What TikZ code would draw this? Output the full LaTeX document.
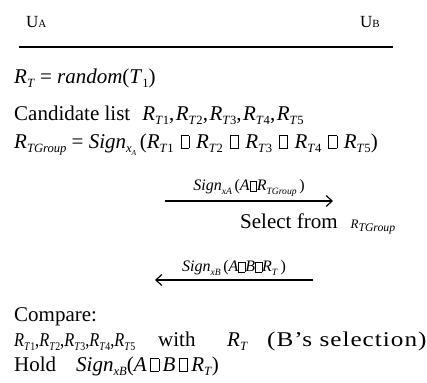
\documentclass[tikz,border=0pt]{standalone}
\usepackage{fontspec}
\usepackage{graphicx}
\setmainfont{Liberation Serif}
\newfontfamily\spc[LetterSpace=4]{Liberation Serif}
\usetikzlibrary{arrows.meta}
\newcommand\lo[1]{\raisebox{-0.22em}{\scalebox{0.6}{#1}}}
\newcommand\sqb{{\setlength\fboxsep{0pt}\setlength\fboxrule{0.45bp}\fbox{\rule{0pt}{0.58em}\hspace{0.38em}}}}
\newcommand\wsq{\hspace{1.5bp} \sqb{} \hspace{1.5bp}}
\newcommand\Rt[1]{\textit{R}\lo{\textit{T}#1}}
\newcommand\cm{,\hspace{1.5bp}}
\tikzset{
  txt/.style={anchor=base west, inner sep=0pt, font=\fontsize{21bp}{24bp}\selectfont},
  sml/.style={anchor=base west, inner sep=0pt, font=\fontsize{19.5bp}{20bp}\selectfont},
  hdr/.style={anchor=base west, inner sep=0pt, font=\fontsize{17bp}{18bp}\selectfont},
  lbl/.style={above=4bp, inner sep=0pt, font=\fontsize{16bp}{17bp}\selectfont},
  msg/.style={line width=1.2bp, -{Straight Barb[length=6bp,width=11bp,line width=1.2bp]}}
}
\begin{document}
\begin{tikzpicture}[x=1bp,y=-1bp]
\useasboundingbox (0,0) rectangle (427,383);
\node[hdr] (ua) at (26,27) {U{\fontsize{11bp}{11bp}\selectfont A}};
\node[hdr] (ub) at (360,27) {U{\fontsize{11bp}{11bp}\selectfont B}};
\coordinate (hl) at (19,47);
\coordinate (hr) at (393,47);
\draw[line width=2bp] (hl) -- (hr);
\node[txt] (l1) at (14,83) {\Rt{} = \textit{random}(\textit{T}\lo{1})};
\node[txt] (l2) at (14,120) {Candidate list\hspace{12bp}\Rt1\cm\Rt2\cm\Rt3\cm\Rt4\cm\Rt5};
\node[txt] (l3) at (14,148) {\textit{R}\lo{\textit{TGroup}} = \textit{Sign}\lo{\textit{x}\lo{\textit{A}}}\,(\Rt1\wsq\Rt2\wsq\Rt3\wsq\Rt4\wsq\Rt5)};
\coordinate (a1s) at (165,201);
\coordinate (a1e) at (333,201);
\draw[msg] (a1s) -- node[lbl] (m1) {\textit{Sign}\lo{\textit{xA}}\,(\textit{A}\sqb\textit{R}\lo{\textit{TGroup}}\,)} (a1e);
\node[txt] (sel) at (240,228) {Select from\hspace{13bp}{\fontsize{13bp}{14bp}\selectfont\textit{R}\raisebox{-0.3em}{\scalebox{0.9}{\textit{TGroup}}}}};
\coordinate (a2s) at (313,280);
\coordinate (a2e) at (155,280);
\draw[msg] (a2s) -- node[lbl] (m2) {\textit{Sign}\lo{\textit{xB}}\,(\textit{A}\sqb\textit{B}\sqb\textit{R}\lo{\textit{T}}\,)} (a2e);
\node[txt] (cmp) at (14,321) {Compare:};
\node[sml] (l5a) at (14,346) {\scalebox{0.84}[1]{\Rt1,\Rt2,\Rt3,\Rt4,\Rt5}};
\node[txt] (l5b) at (158,346) {with};
\node[txt] (l5c) at (227,346) {\Rt{}};
\node[txt] (l5d) at (267,346) {\scalebox{1.2}[1]{\spc(B’s selection)}};
\node[txt] (hold) at (14,371) {Hold\hspace{20bp}\textit{Sign}\lo{\textit{xB}}(\textit{A}\,\sqb\,\textit{B}\,\sqb\,\Rt{})};
\end{tikzpicture}
\end{document}
